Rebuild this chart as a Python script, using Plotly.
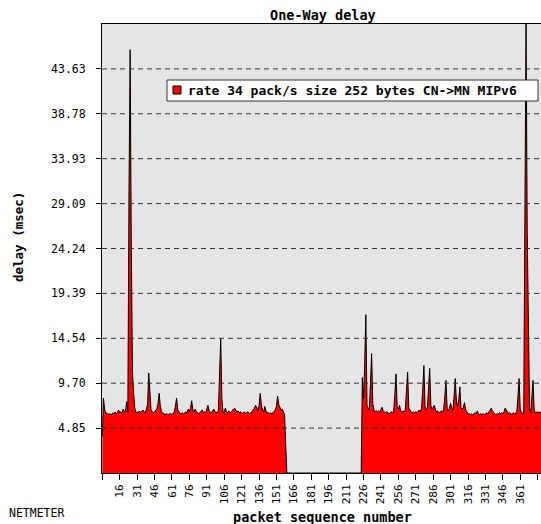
import plotly.graph_objects as go

# ---- data ----
packet_start = 1
delay_part1 = [  # packets 1..159
    4.0, 8.1, 6.9, 6.4, 6.5, 6.3, 6.4, 6.3, 6.3, 6.5, 6.4, 6.6, 6.4, 6.5, 6.8,
    6.5, 6.6, 6.5, 6.9, 6.6, 6.7, 7.7, 6.6, 30.5, 45.7, 24.1, 10.9, 8.6, 7.0, 6.5,
    6.6, 6.5, 6.7, 6.5, 6.6, 6.8, 6.6, 6.5, 6.9, 7.4, 10.8, 8.4, 6.8, 6.6, 6.5,
    6.6, 6.7, 6.9, 7.5, 8.6, 7.2, 6.6, 6.5, 6.4, 6.3, 6.4, 6.3, 6.3, 6.4, 6.4,
    6.3, 6.5, 6.6, 7.2, 8.1, 6.8, 6.5, 6.4, 6.4, 6.5, 6.4, 6.5, 6.6, 6.5, 6.9,
    6.6, 7.0, 7.8, 6.8, 6.6, 6.9, 6.6, 6.5, 6.4, 6.5, 6.6, 6.8, 6.5, 6.6, 6.5,
    7.0, 7.3, 6.7, 6.6, 6.5, 6.7, 6.9, 6.6, 6.5, 6.5, 6.7, 10.2, 14.5, 8.0, 6.6,
    6.5, 7.0, 6.6, 6.5, 6.7, 6.5, 6.6, 6.8, 6.9, 7.0, 6.8, 6.6, 6.7, 6.5, 6.6,
    6.5, 6.4, 6.6, 6.5, 6.4, 6.6, 6.5, 6.4, 6.5, 6.6, 6.8, 7.0, 7.3, 7.1, 6.7,
    7.2, 8.6, 7.4, 6.8, 6.6, 7.2, 6.7, 6.5, 6.5, 6.4, 6.5, 6.4, 6.5, 6.6, 6.8,
    7.2, 8.3, 7.4, 7.0, 6.8, 6.9, 6.6, 6.3, 3.0,
]
delay_gap = [0.0] * 65  # packets 160..224 (no packets received)
delay_part2 = [  # packets 225..379
    10.3, 8.0, 11.7, 17.1, 7.3, 7.0, 6.8, 9.7, 12.9, 7.5, 6.8, 6.6, 6.7, 6.6, 6.7,
    6.6, 6.8, 7.1, 6.7, 6.6, 6.5, 6.6, 6.5, 6.4, 6.5, 6.6, 6.5, 6.7, 8.6, 10.7,
    7.2, 6.9, 7.3, 6.7, 6.6, 6.7, 6.6, 6.8, 8.9, 10.9, 7.0, 6.7, 6.6, 6.5, 6.6,
    6.5, 6.6, 6.5, 6.6, 6.8, 6.6, 7.0, 9.0, 11.6, 7.2, 6.8, 7.0, 9.0, 11.3, 7.3,
    6.9, 7.1, 7.3, 6.8, 6.6, 6.7, 6.5, 6.6, 6.7, 6.6, 6.8, 8.2, 10.0, 7.0, 6.7,
    7.0, 7.5, 7.0, 6.8, 8.2, 10.2, 7.8, 7.2, 7.8, 9.3, 7.0, 6.9, 7.1, 7.6, 6.8,
    6.5, 6.4, 6.4, 6.3, 6.4, 6.3, 6.4, 6.5, 6.4, 6.7, 6.4, 6.3, 6.4, 6.3, 6.4,
    6.3, 6.4, 6.5, 6.4, 6.6, 6.8, 7.0, 6.7, 6.5, 6.4, 6.3, 6.4, 6.3, 6.5, 6.4,
    6.5, 6.4, 6.6, 7.0, 6.8, 6.5, 6.4, 6.5, 6.4, 6.3, 6.5, 6.4, 6.5, 6.6, 8.2,
    10.2, 6.8, 6.5, 6.4, 6.6, 33.5, 49.0, 26.0, 12.6, 7.0, 6.5, 8.2, 10.0, 6.8, 6.5,
    6.6, 6.5, 6.6, 6.5, 6.6,
]
delay = delay_part1 + delay_gap + delay_part2
packets = list(range(packet_start, packet_start + len(delay)))

y_tick_values = [4.848, 9.696, 14.544, 19.392, 24.24, 29.088, 33.936, 38.784, 43.632]
y_tick_labels = ["4.85", "9.70", "14.54", "19.39", "24.24", "29.09", "33.93", "38.78", "43.63"]
x_tick_values = [1, 16, 31, 46, 61, 76, 91, 106, 121, 136, 151, 166, 181, 196, 211,
                 226, 241, 256, 271, 286, 301, 316, 331, 346, 361, 376]
x_tick_labels = [""] + [str(v) for v in x_tick_values[1:]]

title_text = "One-Way delay"
series_name = "rate 34 pack/s size 252 bytes CN->MN MIPv6"
x_title = "packet sequence number"
y_title = "delay (msec)"
footer_text = "NETMETER"

# ---- figure ----
MONO = "DejaVu Sans Mono"
W, H = 541, 524
L, R, T, B = 102, 0, 24, 51
PW, PH = W - L - R, H - T - B


def px(xpix):
    return (xpix - L) / PW


def py(ypix):
    return (H - B - ypix) / PH


fig = go.Figure()
fig.add_trace(go.Scatter(
    x=packets, y=delay, mode="lines",
    line=dict(color="black", width=1),
    fill="tozeroy", fillcolor="#ff0000",
    showlegend=False, hoverinfo="x+y",
))

shapes = []
for v in y_tick_values:
    shapes.append(dict(type="line", xref="paper", yref="y", x0=0, x1=1, y0=v, y1=v,
                       line=dict(color="#333333", width=1, dash="5px,4px"), layer="above"))
# legend box
shapes.append(dict(type="rect", xref="paper", yref="paper",
                   x0=px(167), x1=px(538), y0=py(101), y1=py(80),
                   fillcolor="white", line=dict(color="#333333", width=1), layer="above"))
shapes.append(dict(type="rect", xref="paper", yref="paper",
                   x0=px(173), x1=px(181), y0=py(94), y1=py(86),
                   fillcolor="#ff0000", line=dict(color="black", width=1), layer="above"))

annotations = [
    dict(text="<b>" + title_text + "</b>", xref="paper", yref="paper", x=px(323), y=py(15),
         xanchor="center", yanchor="middle", showarrow=False,
         font=dict(family=MONO, size=13.5, color="black")),
    dict(text="<b>" + series_name + "</b>", xref="paper", yref="paper", x=px(186), y=py(90.5),
         xanchor="left", yanchor="middle", showarrow=False,
         font=dict(family=MONO, size=13, color="black")),
    dict(text="<b>" + x_title + "</b>", xref="paper", yref="paper", x=px(322), y=py(516.5),
         xanchor="center", yanchor="middle", showarrow=False,
         font=dict(family=MONO, size=13.5, color="black")),
    dict(text="<b>" + y_title + "</b>", xref="paper", yref="paper", x=px(18), y=py(237),
         xanchor="center", yanchor="middle", showarrow=False, textangle=-90,
         font=dict(family=MONO, size=12.5, color="black")),
    dict(text=footer_text, xref="paper", yref="paper", x=px(7), y=py(513),
         xanchor="left", yanchor="middle", showarrow=False,
         font=dict(family=MONO, size=11.5, color="black")),
]

fig.update_layout(
    width=W, height=H,
    margin=dict(l=L, r=R, t=T, b=B, pad=0),
    paper_bgcolor="white", plot_bgcolor="#e5e5e5",
    showlegend=False,
    shapes=shapes, annotations=annotations,
    xaxis=dict(range=[0.75, 0.75 + PW / 1.161], tickmode="array",
               tickvals=x_tick_values, ticktext=x_tick_labels, tickangle=-90,
               ticks="outside", ticklen=6, tickcolor="black", tickwidth=1,
               showgrid=False, zeroline=False, showline=True, linecolor="black",
               linewidth=1, mirror=True,
               tickfont=dict(family=MONO, size=11, color="black")),
    yaxis=dict(range=[0, 48.48], tickmode="array", tickvals=y_tick_values,
               ticktext=y_tick_labels, ticks="outside", ticklen=5,
               tickcolor="black", tickwidth=1, showgrid=False, zeroline=False,
               showline=True, linecolor="black", linewidth=1,
               ticklabelstandoff=8,
               tickfont=dict(family=MONO, size=11.5, color="black")),
)

fig.write_html("out.html", config={"displayModeBar": False})
